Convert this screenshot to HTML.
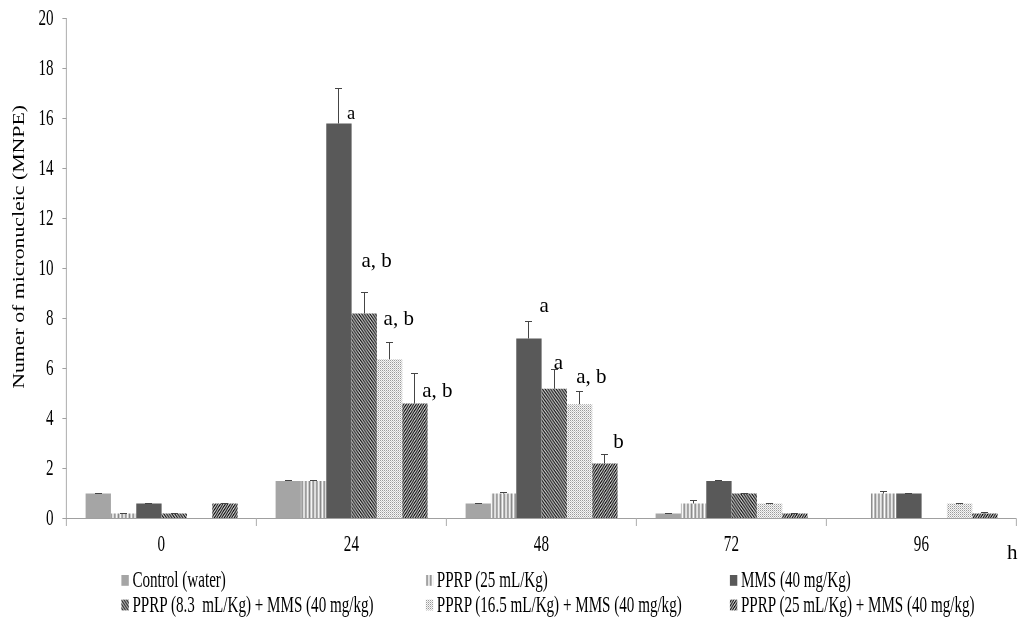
<!DOCTYPE html>
<html><head><meta charset="utf-8"><title>Chart</title>
<style>
html,body{margin:0;padding:0;background:#fff;}
body{width:1024px;height:619px;overflow:hidden;}
svg{display:block;}
text{font-family:"Liberation Serif","Times New Roman",serif;fill:#000;white-space:pre;}
</style></head><body>
<svg width="1024" height="619" viewBox="0 0 1024 619">
<defs>
<pattern id="pv" width="2" height="2" patternUnits="userSpaceOnUse" patternTransform="scale(0.687 1)">
<rect width="2" height="2" fill="#ffffff"/><rect x="0" width="1" height="2" fill="#868686"/>
</pattern>
<pattern id="pb" width="4" height="4" patternUnits="userSpaceOnUse" patternTransform="scale(0.687 1)">
<rect width="4" height="4" fill="#c8c8c8"/>
<path d="M0 0h2v1h-2zM1 1h2v1h-2zM2 2h2v1h-2zM3 3h1v1h-1zM0 3h1v1h-1z" fill="#1a1a1a"/>
</pattern>
<pattern id="pd" width="2" height="2" patternUnits="userSpaceOnUse">
<rect width="2" height="2" fill="#f6f6f6"/><rect x="0" y="0" width="1" height="1" fill="#9a9a9a"/><rect x="1" y="1" width="1" height="1" fill="#cacaca"/>
</pattern>
<pattern id="pf" width="4" height="4" patternUnits="userSpaceOnUse" patternTransform="scale(0.62 1)">
<rect width="4" height="4" fill="#d4d4d4"/>
<path d="M2 0h2v1h-2zM1 1h2v1h-2zM0 2h2v1h-2zM3 3h1v1h-1zM0 3h1v1h-1z" fill="#0a0a0a"/>
</pattern>
</defs>

<rect x="85.60" y="493.50" width="25.33" height="25.00" fill="#a5a5a5"/>
<rect x="110.93" y="513.50" width="25.33" height="5.00" fill="url(#pv)"/>
<rect x="136.27" y="503.50" width="25.33" height="15.00" fill="#595959"/>
<rect x="161.60" y="513.50" width="25.33" height="5.00" fill="url(#pb)"/>
<rect x="212.27" y="503.50" width="25.33" height="15.00" fill="url(#pf)"/>
<rect x="275.60" y="481.00" width="25.33" height="37.50" fill="#a5a5a5"/>
<rect x="300.93" y="481.00" width="25.33" height="37.50" fill="url(#pv)"/>
<rect x="326.27" y="123.50" width="25.33" height="395.00" fill="#595959"/>
<rect x="351.60" y="313.50" width="25.33" height="205.00" fill="url(#pb)"/>
<rect x="376.93" y="359.25" width="25.33" height="159.25" fill="url(#pd)"/>
<rect x="402.27" y="403.50" width="25.33" height="115.00" fill="url(#pf)"/>
<rect x="465.60" y="503.50" width="25.33" height="15.00" fill="#a5a5a5"/>
<rect x="490.93" y="493.50" width="25.33" height="25.00" fill="url(#pv)"/>
<rect x="516.27" y="338.50" width="25.33" height="180.00" fill="#595959"/>
<rect x="541.60" y="388.75" width="25.33" height="129.75" fill="url(#pb)"/>
<rect x="566.93" y="404.25" width="25.33" height="114.25" fill="url(#pd)"/>
<rect x="592.27" y="463.50" width="25.33" height="55.00" fill="url(#pf)"/>
<rect x="655.60" y="513.50" width="25.33" height="5.00" fill="#a5a5a5"/>
<rect x="680.93" y="503.50" width="25.33" height="15.00" fill="url(#pv)"/>
<rect x="706.27" y="481.00" width="25.33" height="37.50" fill="#595959"/>
<rect x="731.60" y="493.50" width="25.33" height="25.00" fill="url(#pb)"/>
<rect x="756.93" y="503.50" width="25.33" height="15.00" fill="url(#pd)"/>
<rect x="782.27" y="513.50" width="25.33" height="5.00" fill="url(#pf)"/>
<rect x="870.93" y="493.50" width="25.33" height="25.00" fill="url(#pv)"/>
<rect x="896.27" y="493.50" width="25.33" height="25.00" fill="#595959"/>
<rect x="946.93" y="503.50" width="25.33" height="15.00" fill="url(#pd)"/>
<rect x="972.27" y="513.50" width="25.33" height="5.00" fill="url(#pf)"/>
<path d="M98.50 493.50V493.50M95.00 493.50H102.00" stroke="#454545" stroke-width="1" fill="none"/>
<path d="M123.50 513.50V513.50M120.00 513.50H127.00" stroke="#454545" stroke-width="1" fill="none"/>
<path d="M148.50 503.50V503.50M145.00 503.50H152.00" stroke="#454545" stroke-width="1" fill="none"/>
<path d="M174.50 513.50V513.50M171.00 513.50H178.00" stroke="#454545" stroke-width="1" fill="none"/>
<path d="M224.50 503.50V503.50M221.00 503.50H228.00" stroke="#454545" stroke-width="1" fill="none"/>
<path d="M288.50 481.00V480.50M285.00 480.50H292.00" stroke="#454545" stroke-width="1" fill="none"/>
<path d="M313.50 481.00V480.50M310.00 480.50H317.00" stroke="#454545" stroke-width="1" fill="none"/>
<path d="M338.50 123.50V88.50M335.00 88.50H342.00" stroke="#454545" stroke-width="1" fill="none"/>
<path d="M364.50 313.50V292.50M361.00 292.50H368.00" stroke="#454545" stroke-width="1" fill="none"/>
<path d="M389.50 359.25V342.50M386.00 342.50H393.00" stroke="#454545" stroke-width="1" fill="none"/>
<path d="M414.50 403.50V373.50M411.00 373.50H418.00" stroke="#454545" stroke-width="1" fill="none"/>
<path d="M478.50 503.50V503.50M475.00 503.50H482.00" stroke="#454545" stroke-width="1" fill="none"/>
<path d="M503.50 493.50V492.50M500.00 492.50H507.00" stroke="#454545" stroke-width="1" fill="none"/>
<path d="M528.50 338.50V321.50M525.00 321.50H532.00" stroke="#454545" stroke-width="1" fill="none"/>
<path d="M554.50 388.75V369.50M551.00 369.50H558.00" stroke="#454545" stroke-width="1" fill="none"/>
<path d="M579.50 404.25V391.50M576.00 391.50H583.00" stroke="#454545" stroke-width="1" fill="none"/>
<path d="M604.50 463.50V454.50M601.00 454.50H608.00" stroke="#454545" stroke-width="1" fill="none"/>
<path d="M668.50 513.50V513.50M665.00 513.50H672.00" stroke="#454545" stroke-width="1" fill="none"/>
<path d="M693.50 503.50V500.50M690.00 500.50H697.00" stroke="#454545" stroke-width="1" fill="none"/>
<path d="M718.50 481.00V480.50M715.00 480.50H722.00" stroke="#454545" stroke-width="1" fill="none"/>
<path d="M744.50 493.50V493.50M741.00 493.50H748.00" stroke="#454545" stroke-width="1" fill="none"/>
<path d="M769.50 503.50V503.50M766.00 503.50H773.00" stroke="#454545" stroke-width="1" fill="none"/>
<path d="M794.50 513.50V513.50M791.00 513.50H798.00" stroke="#454545" stroke-width="1" fill="none"/>
<path d="M883.50 493.50V491.50M880.00 491.50H887.00" stroke="#454545" stroke-width="1" fill="none"/>
<path d="M908.50 493.50V493.50M905.00 493.50H912.00" stroke="#454545" stroke-width="1" fill="none"/>
<path d="M959.50 503.50V503.50M956.00 503.50H963.00" stroke="#454545" stroke-width="1" fill="none"/>
<path d="M984.50 513.50V512.50M981.00 512.50H988.00" stroke="#454545" stroke-width="1" fill="none"/>
<path d="M66.4 18.00V526.00" stroke="#b4b4b4" stroke-width="1.1" fill="none"/>
<path d="M62.400000000000006 518.5H1016.40" stroke="#a0a0a0" stroke-width="1" fill="none"/>
<path d="M62.400000000000006 468.50H66.4" stroke="#a0a0a0" stroke-width="1" fill="none"/>
<path d="M62.400000000000006 418.50H66.4" stroke="#a0a0a0" stroke-width="1" fill="none"/>
<path d="M62.400000000000006 368.50H66.4" stroke="#a0a0a0" stroke-width="1" fill="none"/>
<path d="M62.400000000000006 318.50H66.4" stroke="#a0a0a0" stroke-width="1" fill="none"/>
<path d="M62.400000000000006 268.50H66.4" stroke="#a0a0a0" stroke-width="1" fill="none"/>
<path d="M62.400000000000006 218.50H66.4" stroke="#a0a0a0" stroke-width="1" fill="none"/>
<path d="M62.400000000000006 168.50H66.4" stroke="#a0a0a0" stroke-width="1" fill="none"/>
<path d="M62.400000000000006 118.50H66.4" stroke="#a0a0a0" stroke-width="1" fill="none"/>
<path d="M62.400000000000006 68.50H66.4" stroke="#a0a0a0" stroke-width="1" fill="none"/>
<path d="M62.400000000000006 18.50H66.4" stroke="#a0a0a0" stroke-width="1" fill="none"/>
<path d="M256.40 518.5V526.0" stroke="#b4b4b4" stroke-width="1.1" fill="none"/>
<path d="M446.40 518.5V526.0" stroke="#b4b4b4" stroke-width="1.1" fill="none"/>
<path d="M636.40 518.5V526.0" stroke="#b4b4b4" stroke-width="1.1" fill="none"/>
<path d="M826.40 518.5V526.0" stroke="#b4b4b4" stroke-width="1.1" fill="none"/>
<path d="M1016.40 518.5V526.0" stroke="#b4b4b4" stroke-width="1.1" fill="none"/>
<text transform="translate(53.5 525.10) scale(0.6404237288135594 1)" text-anchor="end" font-size="23.6">0</text>
<text transform="translate(53.5 475.10) scale(0.6404237288135594 1)" text-anchor="end" font-size="23.6">2</text>
<text transform="translate(53.5 425.10) scale(0.6404237288135594 1)" text-anchor="end" font-size="23.6">4</text>
<text transform="translate(53.5 375.10) scale(0.6404237288135594 1)" text-anchor="end" font-size="23.6">6</text>
<text transform="translate(53.5 325.10) scale(0.6404237288135594 1)" text-anchor="end" font-size="23.6">8</text>
<text transform="translate(53.5 275.10) scale(0.6404237288135594 1)" text-anchor="end" font-size="23.6">10</text>
<text transform="translate(53.5 225.10) scale(0.6404237288135594 1)" text-anchor="end" font-size="23.6">12</text>
<text transform="translate(53.5 175.10) scale(0.6404237288135594 1)" text-anchor="end" font-size="23.6">14</text>
<text transform="translate(53.5 125.10) scale(0.6404237288135594 1)" text-anchor="end" font-size="23.6">16</text>
<text transform="translate(53.5 75.10) scale(0.6404237288135594 1)" text-anchor="end" font-size="23.6">18</text>
<text transform="translate(53.5 25.10) scale(0.6404237288135594 1)" text-anchor="end" font-size="23.6">20</text>
<text transform="translate(161.40 550.8) scale(0.6404237288135594 1)" text-anchor="middle" font-size="23.6">0</text>
<text transform="translate(351.40 550.8) scale(0.6404237288135594 1)" text-anchor="middle" font-size="23.6">24</text>
<text transform="translate(541.40 550.8) scale(0.6404237288135594 1)" text-anchor="middle" font-size="23.6">48</text>
<text transform="translate(731.40 550.8) scale(0.6404237288135594 1)" text-anchor="middle" font-size="23.6">72</text>
<text transform="translate(921.40 550.8) scale(0.6404237288135594 1)" text-anchor="middle" font-size="23.6">96</text>
<text transform="translate(24 388.8) scale(0.72 1) rotate(-90)" font-size="21.8">Numer of micronucleic (MNPE)</text>
<text x="1007" y="558.8" font-size="21">h</text>
<text x="347.0" y="119.2" font-size="18.5" xml:space="preserve">a</text>
<text x="361.4" y="266.7" font-size="21" xml:space="preserve">a, b</text>
<text x="383.6" y="324.8" font-size="21" xml:space="preserve">a, b</text>
<text x="422.2" y="396.6" font-size="21" xml:space="preserve">a, b</text>
<text x="539.5" y="311.5" font-size="21" xml:space="preserve">a</text>
<text x="553.7" y="368.7" font-size="21" xml:space="preserve">a</text>
<text x="576.3" y="383.4" font-size="21" xml:space="preserve">a, b</text>
<text x="613.3" y="447.9" font-size="21" xml:space="preserve">b</text>
<rect x="121.4" y="575.0" width="7.4" height="10.8" fill="#a5a5a5"/>
<text transform="translate(132.4 587.0) scale(0.6404 1)" font-size="23.6" xml:space="preserve">Control (water)</text>
<rect x="425.8" y="575.0" width="7.4" height="10.8" fill="url(#pv)"/>
<text transform="translate(436.8 587.0) scale(0.6404 1)" font-size="23.6" xml:space="preserve">PPRP (25 mL/Kg)</text>
<rect x="729.9" y="575.0" width="7.4" height="10.8" fill="#595959"/>
<text transform="translate(740.9 587.0) scale(0.6404 1)" font-size="23.6" xml:space="preserve">MMS (40 mg/Kg)</text>
<rect x="121.4" y="599.6" width="7.4" height="10.8" fill="url(#pb)"/>
<text transform="translate(132.4 611.6) scale(0.6404 1)" font-size="23.6" xml:space="preserve">PPRP (8.3  mL/Kg) + MMS (40 mg/kg)</text>
<rect x="425.8" y="599.6" width="7.4" height="10.8" fill="url(#pd)"/>
<text transform="translate(436.8 611.6) scale(0.6404 1)" font-size="23.6" xml:space="preserve">PPRP (16.5 mL/Kg) + MMS (40 mg/kg)</text>
<rect x="729.9" y="599.6" width="7.4" height="10.8" fill="url(#pf)"/>
<text transform="translate(740.9 611.6) scale(0.6404 1)" font-size="23.6" xml:space="preserve">PPRP (25 mL/Kg) + MMS (40 mg/kg)</text>
</svg>
</body></html>
